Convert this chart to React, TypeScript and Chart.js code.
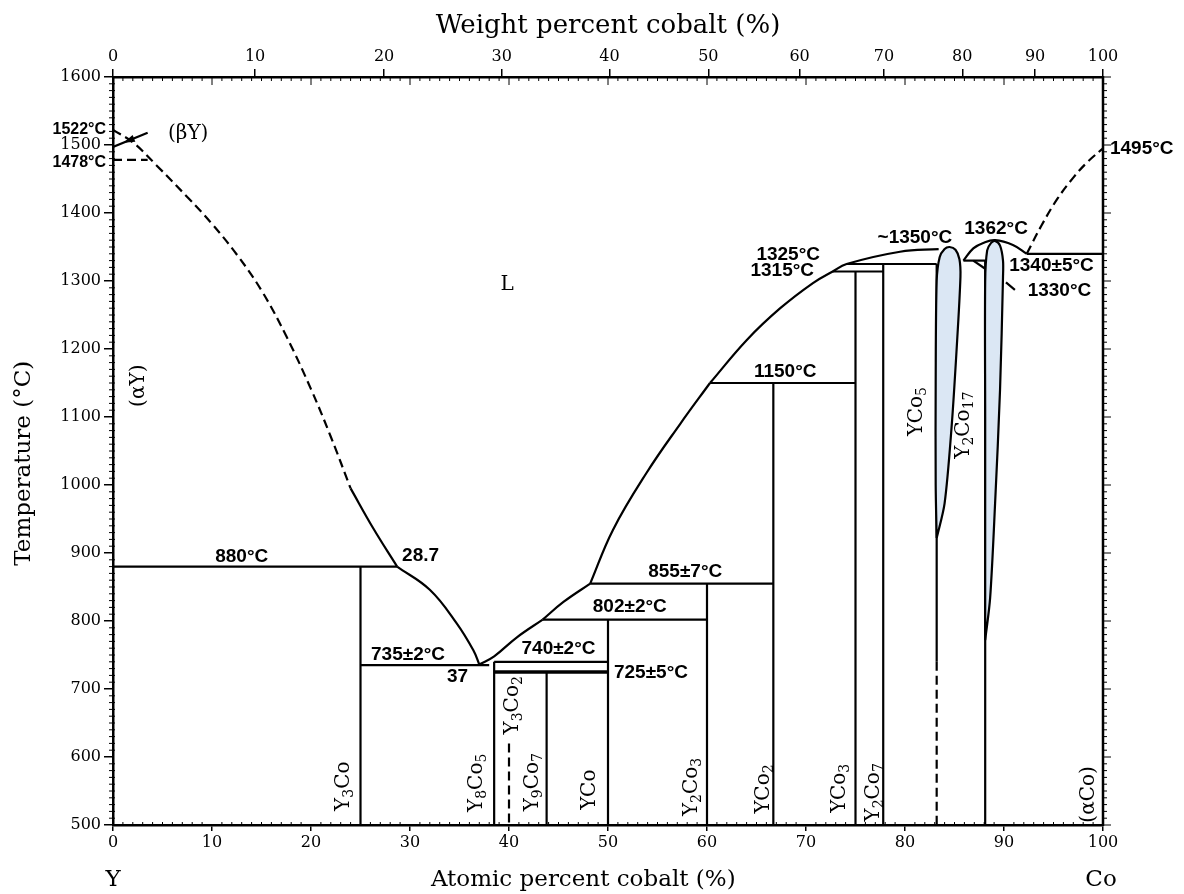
import React, { useEffect, useRef } from 'react';
import { Chart, registerables } from 'chart.js';

Chart.register(...registerables);

type Pt = [number, number];
type Seg = [number, number, number, number];

// ---------- axes ----------
const atomicTicks = [0, 10, 20, 30, 40, 50, 60, 70, 80, 90, 100];
const weightTicks = [0, 10, 20, 30, 40, 50, 60, 70, 80, 90, 100];
const tempTicks = [500, 600, 700, 800, 900, 1000, 1100, 1200, 1300, 1400, 1500, 1600];
const Y_MASS = 88.906;
const CO_MASS = 58.933;
const wtToAt = (w: number) => {
  const a = w / CO_MASS;
  const b = (100 - w) / Y_MASS;
  return a + b === 0 ? 0 : (100 * a) / (a + b);
};

// ---------- curves (atomic % Co, °C) ----------
const liquidusYDashed: Pt[] = [[0, 1522], [2, 1504], [4.4, 1470], [7.6, 1422], [10, 1384], [12.5, 1339], [15, 1286], [17.5, 1219], [20, 1141], [22, 1071], [24, 995]];
const liquidusYSolid: Pt[] = [[24, 995], [26.3, 936], [28.7, 880]];
const liquidusY3Co: Pt[] = [[28.7, 880], [32, 846], [34.7, 797], [36.4, 757], [37, 736]];
const liquidusLowA: Pt[] = [[37, 736], [38.5, 748], [40.8, 776], [43.4, 802]];
const liquidusLowB: Pt[] = [[43.4, 802], [45.5, 828], [48.2, 855]];
const liquidusMainA: Pt[] = [[48.2, 855], [50.5, 934], [53.9, 1018], [57.3, 1090], [60.3, 1150]];
const liquidusMainB: Pt[] = [[60.3, 1150], [64, 1213], [67.4, 1260], [70.7, 1297], [72.7, 1314], [74.1, 1325], [79.5, 1343], [83.4, 1347]];
const domeY2Co17: Pt[] = [[85.9, 1330], [86.9, 1348], [87.9, 1356], [89.1, 1360], [90.9, 1353], [92.3, 1340]];
const liquidusCoDashed: Pt[] = [[92.3, 1340], [93.8, 1382], [95.4, 1421], [97, 1452], [98.5, 1476], [100, 1495]];
const phaseYCo5: Pt[] = [[83.2, 922], [83.1, 1000], [83.1, 1150], [83.2, 1300], [83.5, 1335], [84, 1347], [84.5, 1350], [85.1, 1346], [85.5, 1332], [85.6, 1306], [85.2, 1196], [84.7, 1084], [84.0, 973], [83.2, 922]];
const phaseY2Co17: Pt[] = [[88.1, 772], [88.1, 900], [88.1, 1100], [88.1, 1300], [88.3, 1345], [88.7, 1356], [89.1, 1359], [89.6, 1352], [89.9, 1330], [89.9, 1306], [89.6, 1140], [89.1, 973], [88.6, 834], [88.1, 772]];

// ---------- straight lines ----------
const solidLines: Seg[] = [
  [0, 880, 28.7, 880],
  [25, 880, 25, 500],
  [25, 735, 38, 735],
  [38.5, 740, 38.5, 500],
  [38.5, 740, 50, 740],
  [43.8, 725, 43.8, 500],
  [50, 802, 50, 500],
  [43.4, 802, 60, 802],
  [60, 855, 60, 500],
  [48.2, 855, 66.7, 855],
  [66.7, 1150, 66.7, 500],
  [60.3, 1150, 75, 1150],
  [75, 1314, 75, 500],
  [72.7, 1314, 77.8, 1314],
  [77.8, 1325, 77.8, 500],
  [74.1, 1325, 83.2, 1325],
  [83.2, 1325, 83.2, 740],
  [85.9, 1330, 88.1, 1330],
  [86.9, 1330, 88.1, 1318],
  [88.1, 1330, 88.1, 500],
  [92.3, 1340, 100, 1340],
  [90.2, 1298, 91.1, 1287],
  [0, 1497, 3.5, 1518],
];
const heavyLines: Seg[] = [[38.5, 725, 50, 725]];
const dashedLines: Seg[] = [
  [40, 620, 40, 500],
  [83.2, 740, 83.2, 500],
  [0, 1478, 3.5, 1478],
];

// ---------- annotations ----------
const tempNotes: [string, number, number, CanvasTextAlign][] = [
  ['1522°C', -0.7, 1522, 'right'],
  ['1478°C', -0.7, 1474, 'right'],
  ['880°C', 13, 894, 'center'],
  ['28.7', 29.2, 896, 'left'],
  ['735±2°C', 29.8, 750, 'center'],
  ['37', 34.8, 718, 'center'],
  ['740±2°C', 45, 759, 'center'],
  ['725±5°C', 50.6, 724, 'left'],
  ['802±2°C', 52.2, 821, 'center'],
  ['855±7°C', 57.8, 872, 'center'],
  ['1150°C', 67.9, 1166, 'center'],
  ['1325°C', 68.2, 1339, 'center'],
  ['1315°C', 67.6, 1315, 'center'],
  ['~1350°C', 81, 1363, 'center'],
  ['1362°C', 89.2, 1377, 'center'],
  ['1340±5°C', 94.8, 1322, 'center'],
  ['1330°C', 95.6, 1285, 'center'],
  ['1495°C', 100.7, 1495, 'left'],
];
const regionNotes: [string, number, number, boolean][] = [
  ['(βY)', 7.6, 1519, false],
  ['L', 39.8, 1297, false],
  ['(αY)', 2.4, 1146, true],
  ['Y{3}Co', 23.1, 557, true],
  ['Y{8}Co{5}', 36.6, 562, true],
  ['Y{3}Co{2}', 40.2, 676, true],
  ['Y{9}Co{7}', 42.2, 563, true],
  ['YCo', 48, 552, true],
  ['Y{2}Co{3}', 58.3, 556, true],
  ['YCo{2}', 65.6, 553, true],
  ['YCo{3}', 73.2, 554, true],
  ['Y{2}Co{7}', 76.7, 548, true],
  ['YCo{5}', 81, 1108, true],
  ['Y{2}Co{17}', 85.8, 1088, true],
  ['(αCo)', 98.4, 545, true],
];
const endNotes: [string, number][] = [['Y', 0], ['Co', 99.8]];
const bottomTitle = 'Atomic percent cobalt (%)';
const bottomTitleCenter = 47.5;
const leftTitle = 'Temperature (°C)';
const leftTitleCenter = 1032;

const SERIF = '"DejaVu Serif"';
const NOTE_FONT = 'bold 19px "Liberation Sans"';

const toXY = (pts: Pt[]) => pts.map(([x, y]) => ({ x, y }));

function parseSub(s: string) {
  const parts: { t: string; sub: boolean }[] = [];
  const re = /\{([^}]*)\}|([^{]+)/g;
  let m: RegExpExecArray | null;
  while ((m = re.exec(s))) {
    if (m[1] !== undefined) parts.push({ t: m[1], sub: true });
    else parts.push({ t: m[2], sub: false });
  }
  return parts;
}

const decorPlugin = {
  id: 'decor',
  afterDraw(chart: any) {
    const { ctx, chartArea } = chart;
    const { left, right, top, bottom } = chartArea;
    const xs = chart.scales.x;
    const ys = chart.scales.y;
    const seg = (a: number, b: number, c: number, d: number) => {
      ctx.beginPath();
      ctx.moveTo(a, b);
      ctx.lineTo(c, d);
      ctx.stroke();
    };
    ctx.save();
    ctx.strokeStyle = '#000';
    ctx.fillStyle = '#000';
    // right frame
    ctx.lineWidth = 2.5;
    seg(right, top - 1, right, bottom + 1);
    // minor ticks
    ctx.lineWidth = 1;
    for (let i = 0; i <= 100; i++) {
      const px = xs.getPixelForValue(i);
      const lenT = i % 10 === 0 ? 8 : 4;
      seg(px, top, px, top + lenT);
      if (i % 10 !== 0) seg(px, bottom, px, bottom - 3);
    }
    for (let t = 500; t <= 1600; t += 10) {
      const py = ys.getPixelForValue(t);
      if (t % 100 !== 0) seg(left - 4, py, left + 2, py);
      seg(right, py, right + (t % 100 === 0 ? 8 : 4), py);
    }
    // arrow head for (βY)
    {
      const x0 = xs.getPixelForValue(0), y0 = ys.getPixelForValue(1497);
      const x1 = xs.getPixelForValue(3.5), y1 = ys.getPixelForValue(1518);
      const ang = Math.atan2(y0 - y1, x0 - x1);
      const tipX = x0 + (x1 - x0) * 0.3, tipY = y0 + (y1 - y0) * 0.3;
      ctx.beginPath();
      ctx.moveTo(tipX, tipY);
      ctx.lineTo(tipX - 12 * Math.cos(ang - 0.3), tipY - 12 * Math.sin(ang - 0.3));
      ctx.lineTo(tipX - 12 * Math.cos(ang + 0.3), tipY - 12 * Math.sin(ang + 0.3));
      ctx.closePath();
      ctx.fill();
    }
    // temperature notes
    ctx.textBaseline = 'middle';
    for (const [text, x, t, align] of tempNotes) {
      ctx.textAlign = align;
      ctx.font = x < 0 ? 'bold 16px "Liberation Sans"' : NOTE_FONT;
      ctx.fillText(text, xs.getPixelForValue(x), ys.getPixelForValue(t));
    }
    // region / phase labels
    const big = 20, small = 14;
    for (const [text, x, t, rot] of regionNotes) {
      const parts = parseSub(text);
      ctx.save();
      ctx.translate(xs.getPixelForValue(x), ys.getPixelForValue(t));
      if (rot) ctx.rotate(-Math.PI / 2);
      ctx.textAlign = 'left';
      ctx.textBaseline = 'alphabetic';
      let w = 0;
      for (const p of parts) {
        ctx.font = `${p.sub ? small : big}px ${SERIF}`;
        w += ctx.measureText(p.t).width;
      }
      let cx = -w / 2;
      for (const p of parts) {
        ctx.font = `${p.sub ? small : big}px ${SERIF}`;
        ctx.fillText(p.t, cx, p.sub ? 11 : 7);
        cx += ctx.measureText(p.t).width;
      }
      ctx.restore();
    }
    // axis titles and component labels
    ctx.font = `23px ${SERIF}`;
    ctx.textAlign = 'center';
    ctx.textBaseline = 'middle';
    for (const [text, x] of endNotes) {
      ctx.fillText(text, xs.getPixelForValue(x), bottom + 55);
    }
    ctx.fillText(bottomTitle, xs.getPixelForValue(bottomTitleCenter), bottom + 55);
    ctx.save();
    ctx.translate(24, ys.getPixelForValue(leftTitleCenter));
    ctx.rotate(-Math.PI / 2);
    ctx.fillText(leftTitle, 0, 0);
    ctx.restore();
    ctx.restore();
  },
};

export default function App() {
  const ref = useRef<HTMLCanvasElement | null>(null);
  useEffect(() => {
    if (!ref.current) return;
    const base = { showLine: true, pointRadius: 0, borderColor: '#000', borderWidth: 2.2, fill: false, tension: 0 };
    const datasets: any[] = [];
    datasets.push({ ...base, data: toXY(phaseYCo5), fill: 'shape', backgroundColor: '#dbe7f4', tension: 0.3 });
    datasets.push({ ...base, data: toXY(phaseY2Co17), fill: 'shape', backgroundColor: '#dbe7f4', tension: 0.3 });
    datasets.push({ ...base, data: toXY(liquidusYDashed), borderDash: [9, 5], tension: 0.4 });
    datasets.push({ ...base, data: toXY(liquidusCoDashed), borderDash: [9, 5], tension: 0.4 });
    for (const c of [liquidusYSolid, liquidusY3Co, liquidusLowA, liquidusLowB, liquidusMainA, liquidusMainB, domeY2Co17]) {
      datasets.push({ ...base, data: toXY(c), tension: 0.4 });
    }
    for (const [a, b, c, d] of solidLines) datasets.push({ ...base, data: toXY([[a, b], [c, d]]) });
    for (const [a, b, c, d] of heavyLines) datasets.push({ ...base, borderWidth: 3.5, data: toXY([[a, b], [c, d]]) });
    for (const [a, b, c, d] of dashedLines) datasets.push({ ...base, borderDash: [9, 5], data: toXY([[a, b], [c, d]]) });

    const tickFont = { family: 'DejaVu Serif', size: 16 };
    const plain = (v: any) => String(v);
    const chart = new Chart(ref.current, {
      type: 'scatter',
      data: { datasets },
      options: {
        animation: false,
        responsive: false,
        events: [],
        layout: { padding: { left: 8, right: 81, top: 0, bottom: 0 } },
        plugins: { legend: { display: false }, tooltip: { enabled: false } },
        scales: {
          x: {
            type: 'linear', position: 'bottom', min: 0, max: 100,
            afterBuildTicks: (s: any) => { s.ticks = atomicTicks.map((v) => ({ value: v })); },
            afterFit: (s: any) => { s.height = 69; },
            ticks: { font: tickFont, color: '#000', padding: 2, maxRotation: 0, autoSkip: false, callback: plain },
            grid: { drawOnChartArea: false, tickLength: 6, color: '#000', lineWidth: 1.5 },
            border: { color: '#000', width: 2.5 },
            title: { display: false },
          },
          x2: {
            type: 'linear', position: 'top', min: 0, max: 100,
            afterBuildTicks: (s: any) => { s.ticks = weightTicks.map((w) => ({ value: wtToAt(w) })); },
            afterFit: (s: any) => { s.height = 77; },
            ticks: { font: tickFont, color: '#000', padding: 3, maxRotation: 0, autoSkip: false, callback: (_v: any, i: number) => String(weightTicks[i]) },
            grid: { drawOnChartArea: false, tickLength: 8, color: '#000', lineWidth: 1.5 },
            border: { color: '#000', width: 2.5 },
            title: { display: true, text: 'Weight percent cobalt (%)', font: { family: 'DejaVu Serif', size: 26 }, color: '#000', padding: { top: 11, bottom: 0 } },
          },
          y: {
            type: 'linear', position: 'left', min: 500, max: 1600,
            afterBuildTicks: (s: any) => { s.ticks = tempTicks.map((v) => ({ value: v })); },
            afterFit: (s: any) => { s.width = 105; },
            ticks: { font: tickFont, color: '#000', padding: 3, autoSkip: false, callback: plain },
            grid: { drawOnChartArea: false, tickLength: 9, color: '#000', lineWidth: 1.5 },
            border: { color: '#000', width: 2.5 },
            title: { display: false },
          },
        },
      },
      plugins: [decorPlugin],
    } as any);
    return () => chart.destroy();
  }, []);
  return (
    <div style={{ position: 'absolute', left: 0, top: 0, width: 1184, height: 894, background: '#fff' }}>
      <canvas ref={ref} width={1184} height={894} />
    </div>
  );
}
